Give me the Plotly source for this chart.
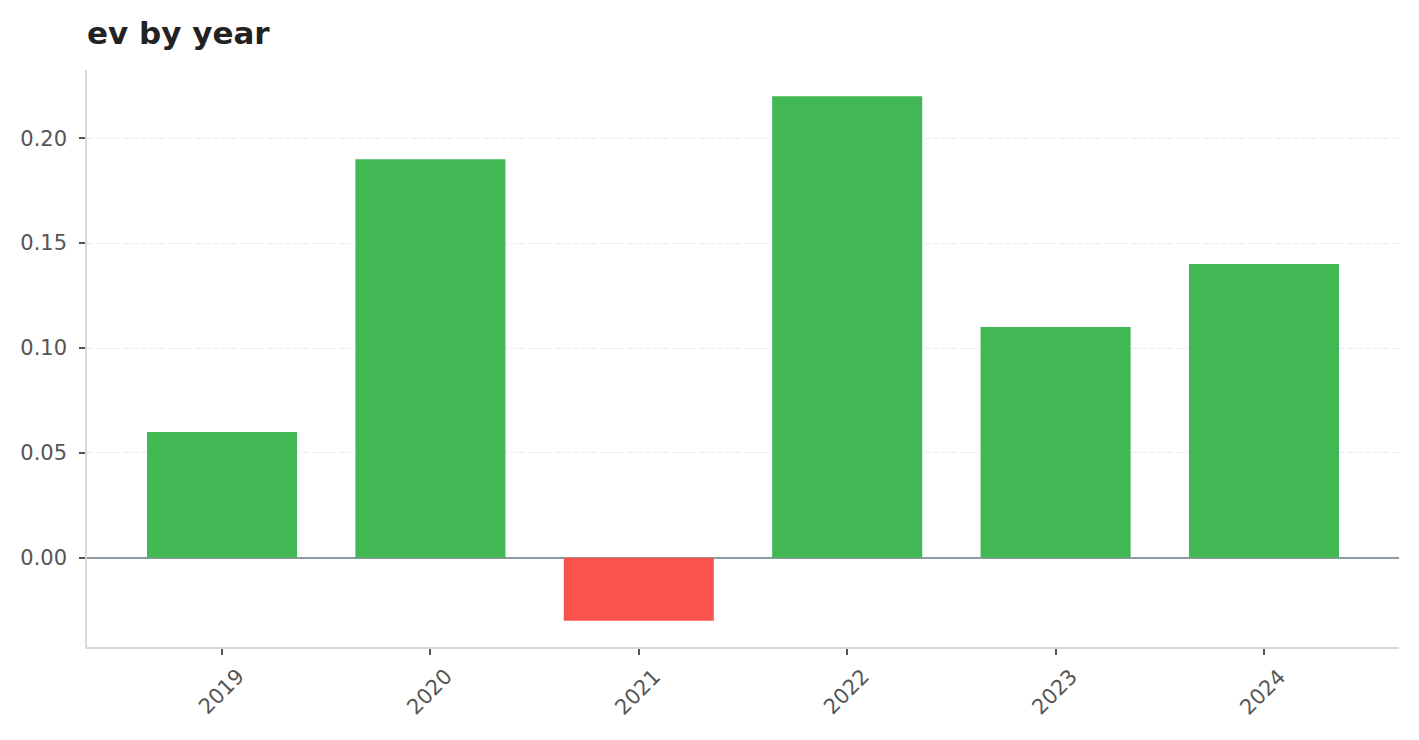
import plotly.graph_objects as go

years = ["2019", "2020", "2021", "2022", "2023", "2024"]
ev = [0.06, 0.19, -0.03, 0.22, 0.11, 0.14]
y_ticks = [0.0, 0.05, 0.10, 0.15, 0.20]
y_tick_labels = ["0.00", "0.05", "0.10", "0.15", "0.20"]

colors = ["#41b853" if v >= 0 else "#f8534d" for v in ev]

fig = go.Figure(
    go.Bar(x=years, y=ev, marker=dict(color=colors, line=dict(width=0)), width=0.72)
)

fig.update_layout(
    width=1419,
    height=740,
    margin=dict(l=87, r=20, t=70, b=93),
    paper_bgcolor="white",
    plot_bgcolor="white",
    font=dict(family="DejaVu Sans", color="#555555", size=21),
    title=dict(
        text="<b>ev by year</b>",
        x=87 / 1419,
        xanchor="left",
        y=1 - 33 / 740,
        yanchor="middle",
        font=dict(family="DejaVu Sans", size=31, color="#222222"),
    ),
    showlegend=False,
)

for i, yr in enumerate(years):
    fig.add_annotation(
        x=i, xref="x", y=0, yref="paper",
        text=yr, textangle=-45, showarrow=False,
        xanchor="center", yanchor="middle", yshift=-45, xshift=-1,
        font=dict(family="DejaVu Sans", size=21, color="#555555"),
    )

fig.update_xaxes(
    type="category",
    range=[-0.648, 5.648],
    showline=True,
    linecolor="#d9d9d9",
    linewidth=1.5,
    ticks="outside",
    ticklen=6,
    tickwidth=1.5,
    tickcolor="#555555",
    showticklabels=False,
    showgrid=False,
    zeroline=False,
)

fig.update_yaxes(
    range=[-0.0425, 0.2325],
    tickvals=y_ticks,
    ticktext=y_tick_labels,
    showline=True,
    linecolor="#d9d9d9",
    linewidth=1.5,
    ticks="outside",
    ticklen=6,
    tickwidth=1.5,
    tickcolor="#555555",
    ticklabelstandoff=8,
    showgrid=True,
    gridcolor="#ececf3",
    griddash="6px,3px",
    gridwidth=1,
    zeroline=True,
    zerolinecolor="#8e99a4",
    zerolinewidth=2,
)

fig.write_html("out.html")
